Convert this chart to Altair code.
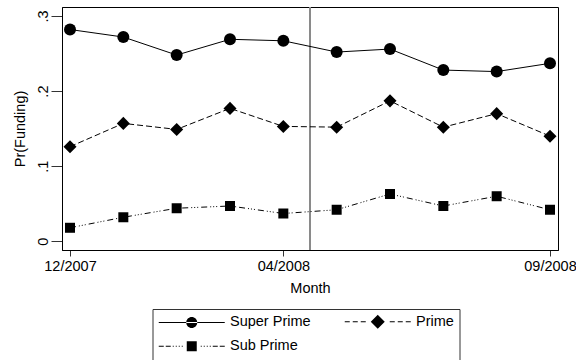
import altair as alt
import pandas as pd

# ---- data ----
months = ["12/2007", "01/2008", "02/2008", "03/2008", "04/2008",
          "05/2008", "06/2008", "07/2008", "08/2008", "09/2008"]
super_prime = [0.282, 0.272, 0.248, 0.269, 0.267, 0.252, 0.256, 0.228, 0.226, 0.237]
prime = [0.126, 0.157, 0.149, 0.177, 0.153, 0.152, 0.187, 0.152, 0.170, 0.140]
sub_prime = [0.018, 0.032, 0.044, 0.047, 0.037, 0.042, 0.063, 0.047, 0.060, 0.042]
series = ["Super Prime", "Prime", "Sub Prime"]
tick_months = ["12/2007", "04/2008", "09/2008"]
y_ticks = [0, 0.1, 0.2, 0.3]
event_position = [4.5]  # vertical reference line between 04/2008 and 05/2008

values = {"Super Prime": super_prime, "Prime": prime, "Sub Prime": sub_prime}
rows = []
for s in series:
    for i, (m, v) in enumerate(zip(months, values[s])):
        rows.append({"idx": i, "month": m, "series": s, "value": v})
df = pd.DataFrame(rows)
df_event = pd.DataFrame({"idx": event_position})

FONT = "Liberation Sans"
FS = 14.5

tick_idx = [months.index(m) for m in tick_months]
month_js = "[" + ",".join("'%s'" % m for m in months) + "]"

x_scale = alt.Scale(domain=[-0.15, 9.15], nice=False, zero=False)
y_scale = alt.Scale(domain=[-0.0116, 0.312], nice=False, zero=False)

x_axis = alt.Axis(values=tick_idx, labelExpr=month_js + "[datum.value]", title="Month",
                  grid=False, tickSize=6, labelPadding=3, labelFlush=False,
                  titleBaseline="alphabetic", titleY=42.5)
y_axis = alt.Axis(values=y_ticks,
                  labelExpr="datum.value == 0 ? '0' : replace(format(datum.value, '.1f'), '0.', '.')",
                  title="Pr(Funding)", grid=False, tickSize=11, labelPadding=4,
                  labelAngle=270, labelAlign="center", labelBaseline="alphabetic",
                  titleX=-42, titleBaseline="middle")

base = alt.Chart(df)

styles = {
    "Super Prime": {"shape": "circle", "size": 144},
    "Prime": {"shape": "diamond", "size": 170, "dash": [6, 3]},
    "Sub Prime": {"shape": "square", "size": 100, "dash": [6, 3, 1, 2, 1, 2, 1, 3]},
}

layers = []
rule = alt.Chart(df_event).mark_rule(color="#8a8a8a", strokeWidth=2).encode(
    x=alt.X("idx:Q", scale=x_scale, axis=x_axis))
layers.append(rule)

for s in series:
    st = styles[s]
    sub = base.transform_filter(alt.datum.series == s)
    line_kw = dict(color="black", strokeWidth=1)
    if "dash" in st:
        line_kw["strokeDash"] = st["dash"]
    layers.append(sub.mark_line(**line_kw).encode(
        x=alt.X("idx:Q", scale=x_scale, axis=x_axis),
        y=alt.Y("value:Q", scale=y_scale, axis=y_axis)))
    layers.append(sub.mark_point(shape=st["shape"], size=st["size"], filled=True,
                                 color="black", opacity=1).encode(
        x=alt.X("idx:Q", scale=x_scale, axis=x_axis),
        y=alt.Y("value:Q", scale=y_scale, axis=y_axis)))


# legend symbols: line + marker as one filled custom symbol path
# (line pieces are thin filled rectangles; 1 unit = 1 px at size 4)
def seg(a, b):
    return "M%g,-0.5H%gV0.5H%gZ" % (a, b, a)


solid = seg(-33, 33)
dashed = "".join(seg(a, a + 5) for a in (-33, -25, -17, 12, 20, 28))
dashdot = "".join(seg(a, b) for a, b in [(-33, -28), (-26, -21), (-19, -18), (-16, -15),
                                           (-13, -12), (-10, -9), (9, 10), (12, 13),
                                           (15, 16), (18, 19), (21, 26), (28, 33)])
legend_paths = [
    solid + "M-5.5,0A5.5,5.5 0 1,0 5.5,0A5.5,5.5 0 1,0 -5.5,0Z",
    dashed + "M-7,0L0,-7L7,0L0,7Z",
    dashdot + "M-5,-5H5V5H-5Z",
]
legend_layer = base.transform_filter("false").mark_point(
    filled=True, color="black", size=4, opacity=1
).encode(
    x=alt.X("idx:Q", scale=x_scale, axis=x_axis),
    y=alt.Y("value:Q", scale=y_scale, axis=y_axis),
    shape=alt.Shape("series:N", scale=alt.Scale(domain=series, range=legend_paths),
                    legend=alt.Legend(title=None, orient="none", legendX=90.5, legendY=302,
                                      direction="horizontal",
                                      columns=2, padding=5, strokeColor="#333",
                                      symbolSize=4, symbolFillColor="black",
                                      symbolOffset=27, labelOffset=31,
                                      columnPadding=30, rowPadding=6,
                                      labelFont=FONT, labelFontSize=FS, labelColor="black",
                                      labelLimit=300)),
)
layers.append(legend_layer)

chart = alt.layer(*layers).properties(
    width=496, height=243,
    autosize=alt.AutoSizeParams(type="none"),
    padding={"left": 62, "top": 7, "right": 18, "bottom": 110},
    background="white",
).configure_view(stroke="black", strokeWidth=1).configure_axis(
    labelFont=FONT, labelFontSize=FS, labelColor="black",
    titleFont=FONT, titleFontSize=FS, titleColor="black", titleFontWeight="normal",
    domainColor="black", tickColor="#333", tickWidth=1,
)

chart.save("out.html", embed_options={"renderer": "svg", "actions": False})
